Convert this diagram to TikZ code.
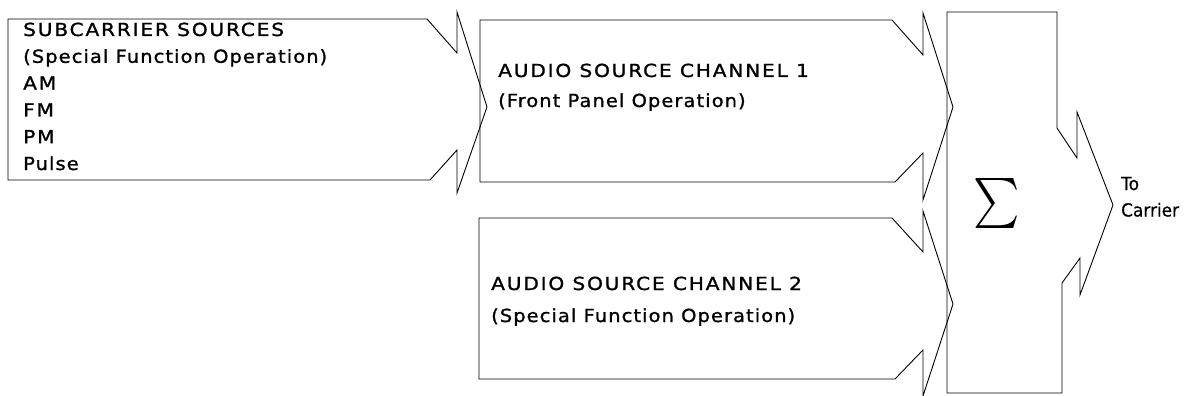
\documentclass[tikz,border=0pt]{standalone}
\usepackage{fontspec}
\usepackage{graphicx}
\setmainfont{DejaVu Sans}
\newfontfamily\capf[FakeStretch=1.12,LetterSpace=10,FakeBold=1.2]{DejaVu Sans}
\newfontfamily\lowf[FakeStretch=1.08,LetterSpace=6,FakeBold=1.2]{DejaVu Sans}
\newfontfamily\tcf[FakeStretch=0.94,FakeBold=0.6]{DejaVu Sans}
\begin{document}
\begin{tikzpicture}[x=1pt,y=-1pt,
  blockline/.style={draw=black,line width=0.9pt,line join=miter},
  captext/.style={anchor=base west,inner sep=0pt,font=\capf\fontsize{18}{20}\selectfont},
  lowtext/.style={anchor=base west,inner sep=0pt,font=\lowf\fontsize{18}{20}\selectfont},
  outtext/.style={anchor=base west,inner sep=0pt,font=\tcf\fontsize{18}{20}\selectfont}]
\useasboundingbox (0,0) rectangle (1187,396);
% subcarrier block
\draw[blockline] (8,19) -- (427,19) -- (457,53) -- (457,12) -- (487,107) -- (457,193) -- (457,150) -- (430,180) -- (8,180) -- cycle;
% audio channel 1
\draw[blockline] (480,20) -- (892,20) -- (923,55) -- (923,13) -- (953,107) -- (923,200) -- (923,153) -- (895,182) -- (480,182) -- cycle;
% audio channel 2
\draw[blockline] (479,218) -- (892,218) -- (923,252) -- (923,211) -- (953,304) -- (923,396) -- (923,350) -- (895,379) -- (479,379) -- cycle;
% summing block
\draw[blockline] (947,12) -- (1057,12) -- (1057,128) -- (1077,158) -- (1077,112) -- (1113,205) -- (1080,295) -- (1080,258) -- (1062,283) -- (1062,393) -- (947,393) -- cycle;
% texts
\node[captext] (s1) at (23,36) {SUBCARRIER SOURCES};
\node[lowtext] (s2) at (23,62.8) {(Special Function Operation)};
\node[captext] (s3) at (23,89.6) {AM};
\node[captext] (s4) at (23,116.4) {FM};
\node[captext] (s5) at (23,143.2) {PM};
\node[lowtext] (s6) at (23,170) {Pulse};
\node[captext] (a1) at (498,77) {AUDIO SOURCE CHANNEL 1};
\node[lowtext] (a1b) at (498,107) {(Front Panel Operation)};
\node[captext] (a2) at (491,290) {AUDIO SOURCE CHANNEL 2};
\node[lowtext] (a2b) at (491,322) {(Special Function Operation)};
\node[inner sep=0pt] (sigma) at (997,203) {\scalebox{4.4}[5]{$\sum$}};
\node[outtext] (to1) at (1121,190) {To};
\node[outtext] (to2) at (1121,216.5) {Carrier};
\end{tikzpicture}
\end{document}
